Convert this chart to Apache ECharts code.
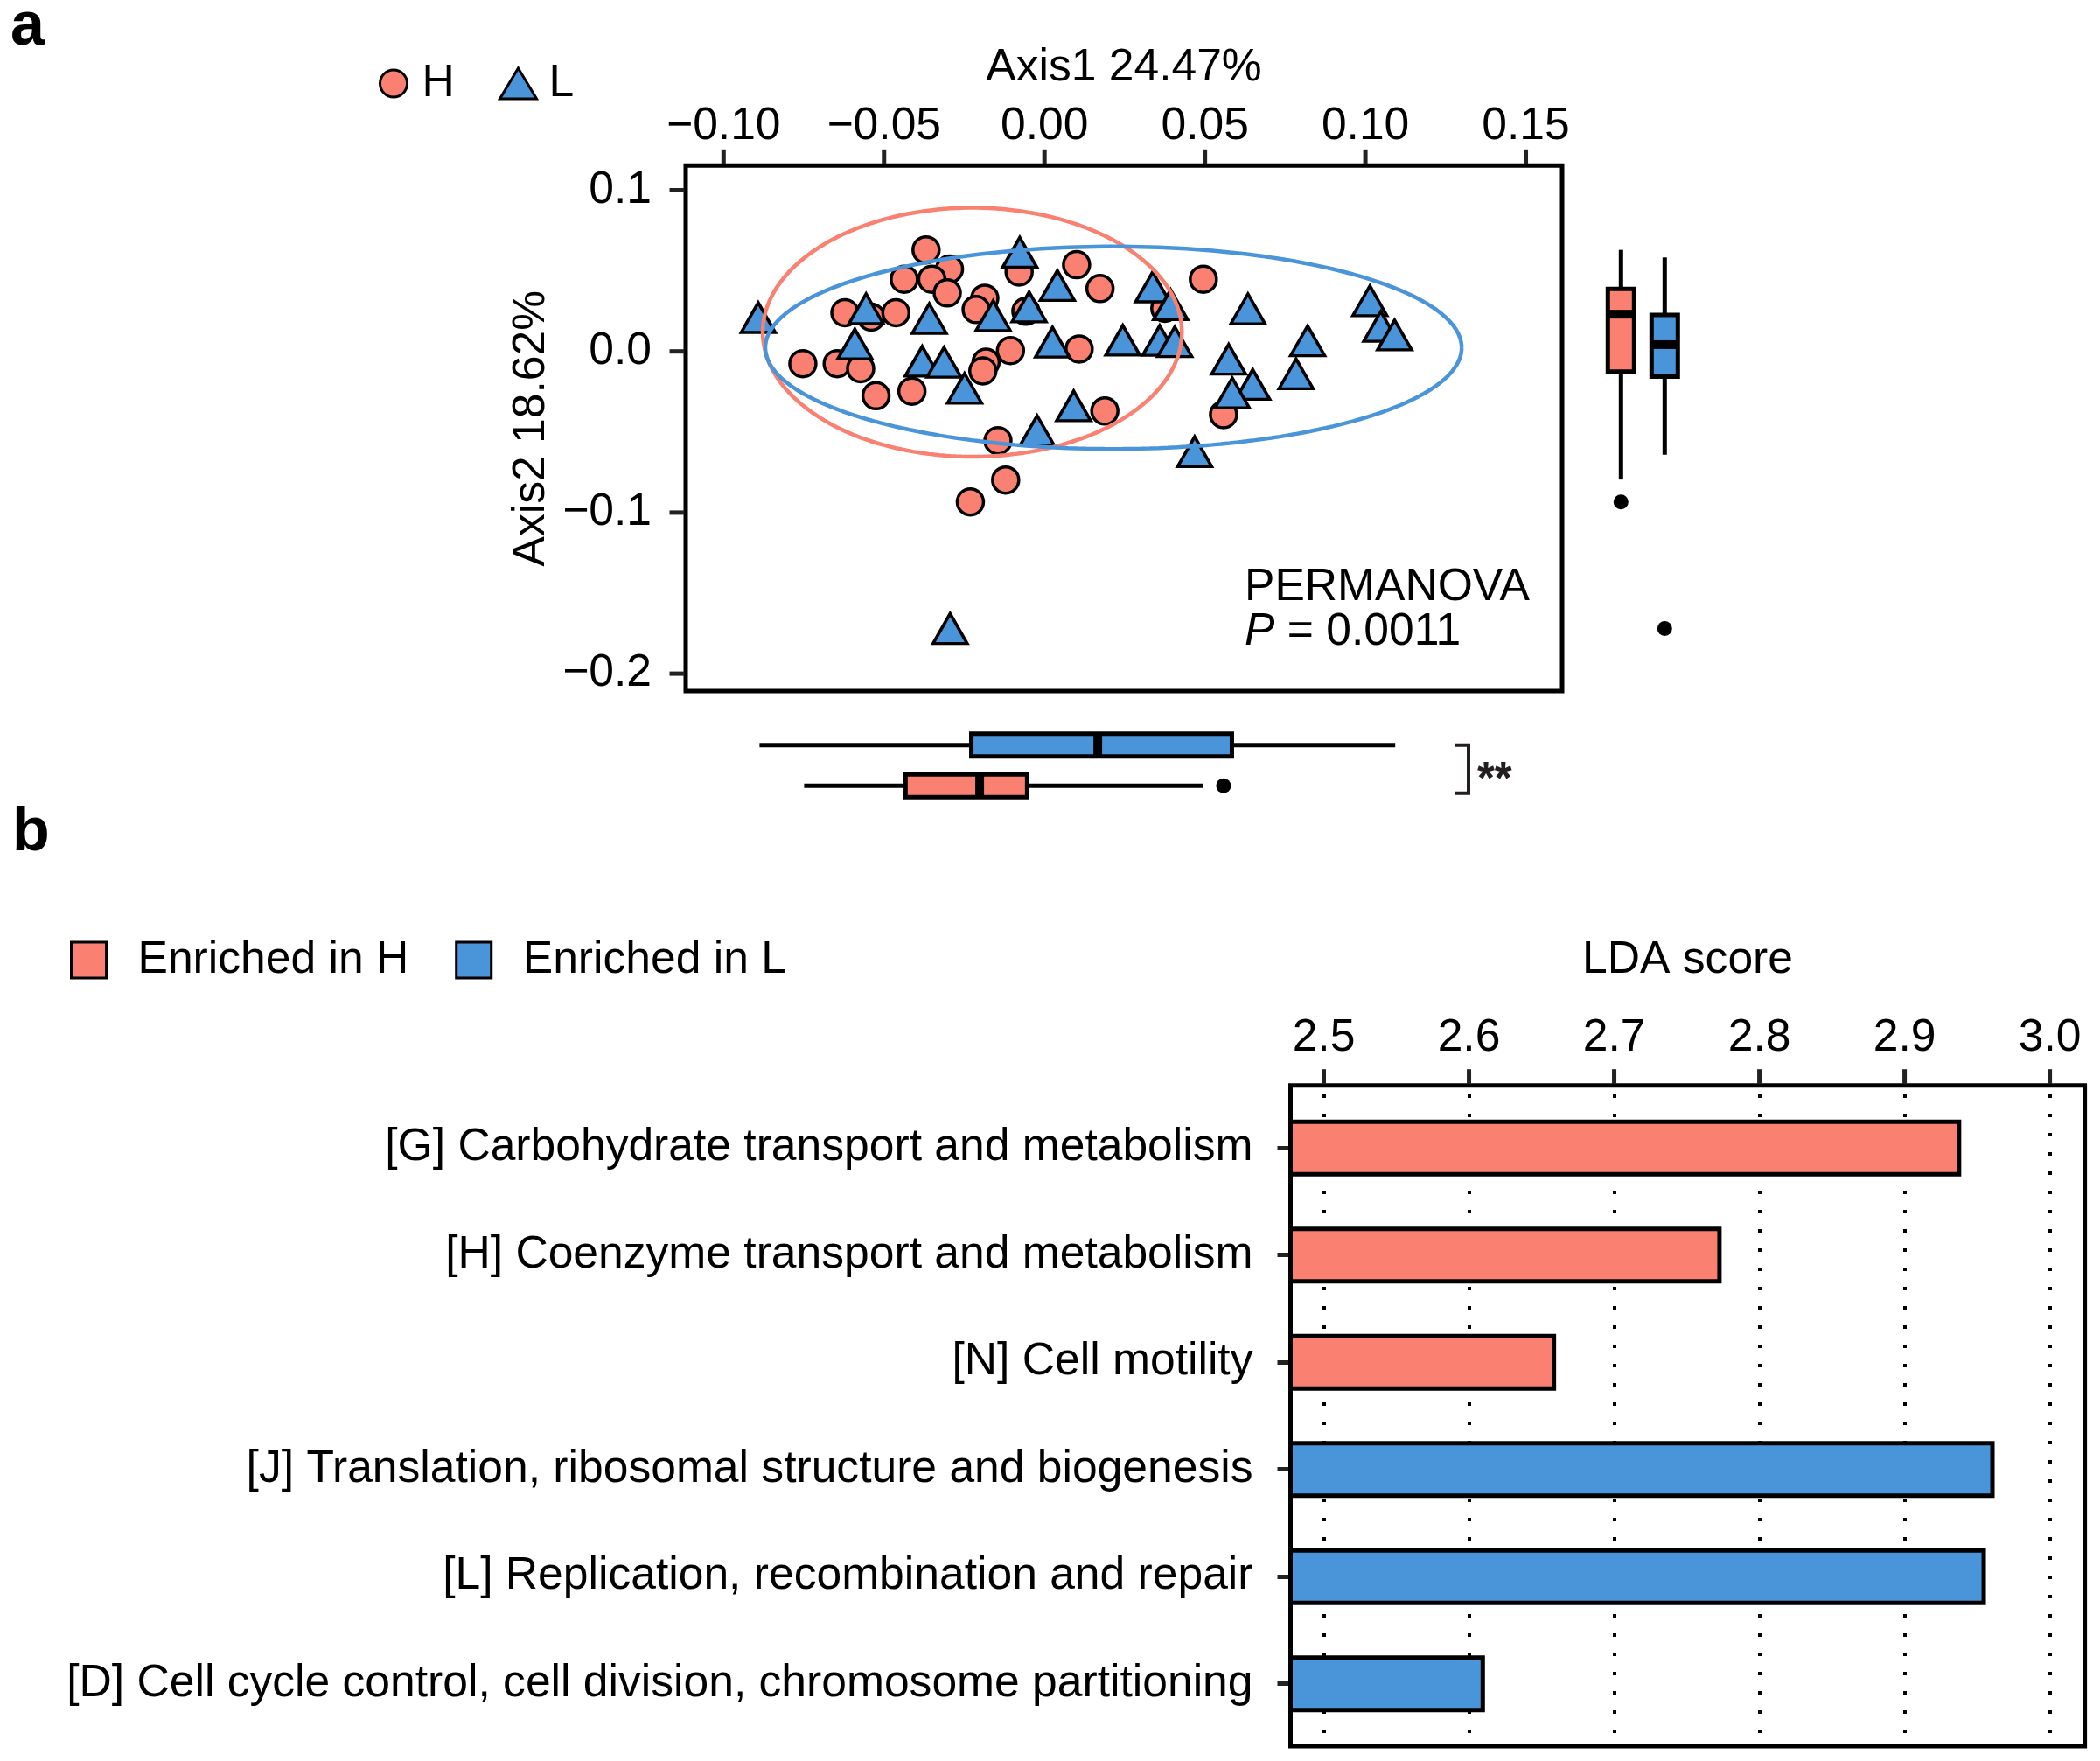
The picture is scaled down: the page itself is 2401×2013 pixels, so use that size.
<!DOCTYPE html>
<html><head><meta charset="utf-8">
<script src="https://cdn.jsdelivr.net/npm/echarts@6/dist/echarts.min.js"></script>
<style>html,body{margin:0;padding:0;background:#fff}#c{width:2401px;height:2013px}</style>
</head><body><div id="c"></div>
<script>
// ---------- data: panel a (PCoA) ----------
const hPoints = [[-0.0369,0.0630],[-0.0296,0.0511],[-0.0437,0.0448],[-0.0351,0.0448],[-0.0303,0.0363],[-0.0079,0.0493],[0.0100,0.0538],[0.0173,0.0390],[-0.0186,0.0330],[-0.0213,0.0260],[-0.0622,0.0240],[-0.0540,0.0213],[-0.0463,0.0240],[-0.0058,0.0249],[-0.0753,-0.0076],[-0.0646,-0.0076],[-0.0573,-0.0107],[-0.0525,-0.0275],[-0.0413,-0.0247],[-0.0106,0.0005],[-0.0182,-0.0067],[-0.0192,-0.0121],[0.0108,0.0015],[0.0188,-0.0370],[-0.0145,-0.0554],[-0.0121,-0.0798],[-0.0231,-0.0934],[0.0375,0.0267],[0.0495,0.0448],[0.0558,-0.0392]];
const lPoints = [[-0.0892,0.0210],[-0.0077,0.0615],[0.0040,0.0409],[-0.0048,0.0276],[-0.0556,0.0265],[-0.0359,0.0204],[-0.0160,0.0222],[-0.0591,0.0046],[-0.0381,-0.0061],[-0.0313,-0.0068],[-0.0249,-0.0229],[0.0025,0.0057],[0.0091,-0.0338],[-0.0023,-0.0491],[0.0244,0.0069],[0.0337,0.0400],[0.0393,0.0290],[0.0359,0.0068],[0.0406,0.0060],[0.0634,0.0264],[0.0574,-0.0049],[0.0649,-0.0205],[0.0585,-0.0257],[0.0820,0.0066],[0.0784,-0.0139],[0.1014,0.0314],[0.1048,0.0155],[0.1091,0.0102],[0.0468,-0.0622],[-0.0294,-0.1720]];
const groups = ['H','L'];
// ellipse parameters [centerX, centerY, radiusX, radiusY]
const hEllipse = [-0.0225, 0.0119, 0.0653, 0.0772];
const lEllipse = [0.0215, 0.0023, 0.1085, 0.0628];
// marginal boxplots [min, Q1, median, Q3, max]
const hBoxX = [-0.0749,-0.0433,-0.0202,-0.0054,0.0493];
const lBoxX = [-0.0888,-0.0228,0.0166,0.0584,0.1093];
const hOutX = [0.0558];
const hBoxY = [-0.0795,-0.0125,0.0231,0.0388,0.0630];
const lBoxY = [-0.0641,-0.0157,0.0042,0.0226,0.0583];
const hOutY = [-0.0934];
const lOutY = [-0.1720];
const xTicks = [-0.10,-0.05,0.00,0.05,0.10,0.15];
const yTicks = [-0.2,-0.1,0.0,0.1];
const xRange = [-0.1118, 0.1613];
const yRange = [-0.2108, 0.1153];
// ---------- data: panel b (LEfSe) ----------
const ldaCats = ['[G] Carbohydrate transport and metabolism','[H] Coenzyme transport and metabolism','[N] Cell motility','[J] Translation, ribosomal structure and biogenesis','[L] Replication, recombination and repair','[D] Cell cycle control, cell division, chromosome partitioning'];
const ldaValues = [2.939, 2.774, 2.660, 2.962, 2.956, 2.611];
const ldaGroup = ['H','H','H','L','L','L'];
const ldaTicks = [2.5,2.6,2.7,2.8,2.9,3.0];
const ldaRange = [2.4771, 3.0241];

// ---------- styling ----------
const RED = '#FA8072', BLUE = '#4A94DA';
const FF = "'Liberation Sans', Arial, Helvetica, sans-serif";
const FS = 51.6;
const FONT = FS + "px 'Liberation Sans', Arial, sans-serif";
const TICK = '#222';
const minus = s => s.replace('-', '\u2212');

function ellipse(p){
  const out = [];
  for (let i = 0; i <= 240; i++){
    const t = i / 240 * Math.PI * 2;
    out.push([p[0] + p[2]*Math.cos(t), p[1] + p[3]*Math.sin(t)]);
  }
  return out;
}
function boxRender(horizontal, half){
  return function(params, api){
    const cat = api.value(0);
    const v = [1,2,3,4,5].map(i => api.value(i));
    const p = v.map(val => horizontal ? api.coord([val, cat]) : api.coord([cat, val]));
    const color = api.visual('color');
    const lw = 5, st = {stroke:'#000', lineWidth:lw};
    let ch;
    if (horizontal){
      const y = p[0][1];
      ch = [
        {type:'line', shape:{x1:p[0][0],y1:y,x2:p[1][0],y2:y}, style:st},
        {type:'line', shape:{x1:p[3][0],y1:y,x2:p[4][0],y2:y}, style:st},
        {type:'rect', shape:{x:p[1][0],y:y-half,width:p[3][0]-p[1][0],height:2*half}, style:{fill:color,stroke:'#000',lineWidth:lw}},
        {type:'line', shape:{x1:p[2][0],y1:y-half,x2:p[2][0],y2:y+half}, style:{stroke:'#000',lineWidth:10}}
      ];
    } else {
      const x = p[0][0];
      ch = [
        {type:'line', shape:{x1:x,y1:p[0][1],x2:x,y2:p[1][1]}, style:st},
        {type:'line', shape:{x1:x,y1:p[3][1],x2:x,y2:p[4][1]}, style:st},
        {type:'rect', shape:{x:x-half,y:p[3][1],width:2*half,height:p[1][1]-p[3][1]}, style:{fill:color,stroke:'#000',lineWidth:lw}},
        {type:'line', shape:{x1:x-half,y1:p[2][1],x2:x+half,y2:p[2][1]}, style:{stroke:'#000',lineWidth:10}}
      ];
    }
    return {type:'group', children:ch};
  };
}
// outward tick marks placed through the axes' own scales
function tickSeries(xi, yi, data, vertical){
  return {type:'scatter', xAxisIndex:xi, yAxisIndex:yi, data:data, symbol:'rect', clip:false, silent:true, z:6,
    symbolSize: vertical ? [5,17] : [17,5], symbolOffset: vertical ? [0,-10] : [-10,0],
    itemStyle:{color:TICK, opacity:1}};
}
const noLine = {show:false, onZero:false};

const option = {
  animation:false,
  textStyle:{fontFamily:FF, color:'#000'},
  grid:[
    {left:784, top:189.3, width:1002, height:600.7, show:true, borderColor:'#000', borderWidth:5},
    {left:784, top:828.4, width:1002, height:93.2},
    {left:1828.3, top:189.3, width:100, height:600.7},
    {left:1475.5, top:1250.9, width:908.1, height:735},
    {left:1475.5, top:1240.7, width:908.1, height:755.3, show:true, borderColor:'#000', borderWidth:5}
  ],
  xAxis:[
    {gridIndex:0, type:'value', position:'top', min:xRange[0], max:xRange[1],
     name:'Axis1 24.47%', nameLocation:'middle', nameGap:86, nameTextStyle:{fontSize:FS, color:'#000'},
     axisLine:noLine, splitLine:{show:false}, axisTick:{show:false},
     axisLabel:{customValues:xTicks, fontSize:FS, color:'#000', margin:45, verticalAlign:'middle', formatter:v => minus(v.toFixed(2))}},
    {gridIndex:1, type:'value', min:xRange[0], max:xRange[1], show:false, axisLine:noLine},
    {gridIndex:2, type:'category', data:groups, show:false, axisLine:noLine},
    {gridIndex:3, type:'value', position:'top', offset:10.2, min:ldaRange[0], max:ldaRange[1],
     name:'LDA score', nameLocation:'middle', nameGap:117, nameTextStyle:{fontSize:FS, color:'#000'},
     axisLine:noLine, axisTick:{show:false},
     axisLabel:{customValues:ldaTicks, fontSize:FS, color:'#000', margin:54, verticalAlign:'middle', formatter:v => v.toFixed(1)},
     splitLine:{show:true, lineStyle:{color:'#000', width:4, type:[4,18]}}},
    {gridIndex:4, type:'value', min:ldaRange[0], max:ldaRange[1], show:false, axisLine:noLine}
  ],
  yAxis:[
    {gridIndex:0, type:'value', min:yRange[0], max:yRange[1],
     name:'Axis2 18.62%', nameLocation:'middle', nameGap:150, nameTextStyle:{fontSize:FS, color:'#000'},
     axisLine:noLine, splitLine:{show:false}, axisTick:{show:false},
     axisLabel:{customValues:yTicks, fontSize:FS, color:'#000', margin:39, formatter:v => minus(v.toFixed(1))}},
    {gridIndex:1, type:'category', data:groups, show:false, axisLine:noLine},
    {gridIndex:2, type:'value', min:yRange[0], max:yRange[1], show:false, axisLine:noLine},
    {gridIndex:3, type:'category', inverse:true, data:ldaCats,
     axisLine:noLine,
     axisTick:{show:true, alignWithLabel:true, length:15, lineStyle:{color:TICK, width:5}},
     axisLabel:{fontSize:FS, color:'#000', margin:43}},
    {gridIndex:4, type:'value', min:0, max:1, show:false, axisLine:noLine}
  ],
  legend:[
    {data:[{name:'H', icon:'circle', itemStyle:{color:RED, borderColor:'#000', borderWidth:3}}],
     left:433, top:69.5, padding:0, itemWidth:31, itemHeight:31, selectedMode:false,
     textStyle:{fontSize:FS, color:'#000', padding:[0,0,0,12]}},
    {data:[{name:'L', icon:'triangle', itemStyle:{color:BLUE, borderColor:'#000', borderWidth:3}}],
     left:570, top:69.5, padding:0, itemWidth:42, itemHeight:35, selectedMode:false,
     textStyle:{fontSize:FS, color:'#000', padding:[0,0,0,9]}},
    {data:[{name:'Enriched in H', icon:'rect', itemStyle:{color:RED, borderColor:'#000', borderWidth:3}},
           {name:'Enriched in L', icon:'rect', itemStyle:{color:BLUE, borderColor:'#000', borderWidth:3}}],
     left:80, top:1071.5, padding:0, itemWidth:40, itemHeight:41, itemGap:53, selectedMode:false,
     textStyle:{fontSize:FS, color:'#000', padding:[0,0,0,31]}}
  ],
  graphic:[
    {type:'text', style:{x:12, y:32, text:'a', font:"bold 70px 'Liberation Sans', Arial, sans-serif", fill:'#000', verticalAlign:'middle'}},
    {type:'text', style:{x:14, y:953, text:'b', font:"bold 70px 'Liberation Sans', Arial, sans-serif", fill:'#000', verticalAlign:'middle'}},
    {type:'text', style:{x:1423, y:672, text:'PERMANOVA', font:FONT, fill:'#000', verticalAlign:'middle'}},
    {type:'text', style:{x:1423, y:723, text:'{i|P} = 0.0011', font:FONT, fill:'#000', verticalAlign:'middle',
      rich:{i:{fontStyle:'italic', fontSize:FS, fontFamily:FF}}}},
    {type:'polyline', shape:{points:[[1663,851.7],[1679,851.7],[1679,906.7],[1663,906.7]]}, style:{stroke:'#231F20', lineWidth:4, fill:null}},
    {type:'text', style:{x:1689, y:893, text:'**', font:"bold 51px 'Liberation Sans', Arial, sans-serif", fill:'#231F20', verticalAlign:'middle'}}
  ],
  series:[
    {name:'H', type:'scatter', xAxisIndex:0, yAxisIndex:0, data:hPoints, symbol:'circle', symbolSize:30,
     itemStyle:{color:RED, borderColor:'#000', borderWidth:3.5, opacity:1}, z:3, silent:true},
    {name:'L', type:'scatter', xAxisIndex:0, yAxisIndex:0, data:lPoints, symbol:'triangle', symbolSize:[39,34],
     itemStyle:{color:BLUE, borderColor:'#000', borderWidth:3.5, opacity:1}, z:4, silent:true},
    {type:'line', xAxisIndex:0, yAxisIndex:0, data:ellipse(hEllipse), symbol:'none', lineStyle:{color:RED, width:4.5}, z:5, silent:true},
    {type:'line', xAxisIndex:0, yAxisIndex:0, data:ellipse(lEllipse), symbol:'none', lineStyle:{color:BLUE, width:4.5}, z:5, silent:true},
    tickSeries(0, 0, xTicks.map(v => [v, yRange[1]]), true),
    tickSeries(0, 0, yTicks.map(v => [xRange[0], v]), false),
    tickSeries(4, 4, ldaTicks.map(v => [v, 1]), true),
    {type:'custom', xAxisIndex:1, yAxisIndex:1, renderItem:boxRender(true, 13), encode:{x:[1,2,3,4,5], y:0},
     data:[{value:[0].concat(hBoxX), itemStyle:{color:RED}}, {value:[1].concat(lBoxX), itemStyle:{color:BLUE}}], silent:true},
    {type:'scatter', xAxisIndex:1, yAxisIndex:1, data:hOutX.map(v => [v, 0]), symbolSize:17, itemStyle:{color:'#000', opacity:1}, silent:true},
    {type:'custom', xAxisIndex:2, yAxisIndex:2, renderItem:boxRender(false, 15), encode:{x:0, y:[1,2,3,4,5]},
     data:[{value:[0].concat(hBoxY), itemStyle:{color:RED}}, {value:[1].concat(lBoxY), itemStyle:{color:BLUE}}], silent:true},
    {type:'scatter', xAxisIndex:2, yAxisIndex:2, data:hOutY.map(v => [0, v]).concat(lOutY.map(v => [1, v])), symbolSize:17, itemStyle:{color:'#000', opacity:1}, silent:true},
    {name:'Enriched in H', type:'bar', xAxisIndex:3, yAxisIndex:3, barWidth:65, barGap:'-100%',
     data:ldaValues.map((v,i) => ldaGroup[i] === 'H' ? v : '-'), itemStyle:{color:RED, borderColor:'#000', borderWidth:5}, silent:true},
    {name:'Enriched in L', type:'bar', xAxisIndex:3, yAxisIndex:3, barWidth:65, barGap:'-100%',
     data:ldaValues.map((v,i) => ldaGroup[i] === 'L' ? v : '-'), itemStyle:{color:BLUE, borderColor:'#000', borderWidth:5}, silent:true}
  ]
};
const chart = echarts.init(document.getElementById('c'), null, {renderer:'canvas', width:2401, height:2013, devicePixelRatio:1});
chart.setOption(option);
</script>
</body></html>
